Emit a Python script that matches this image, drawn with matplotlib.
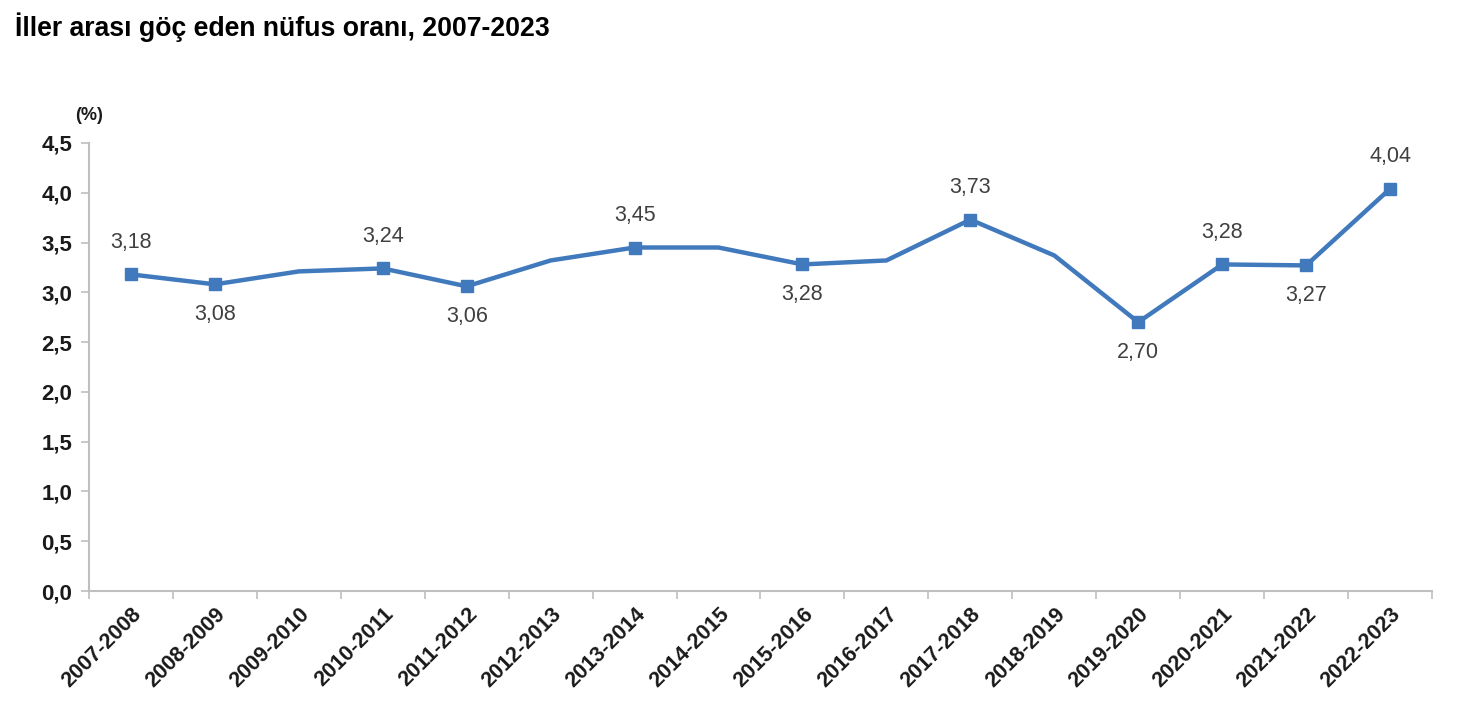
import matplotlib
matplotlib.use("Agg")
import matplotlib.pyplot as plt
import numpy as np

plt.rcParams['font.family'] = ['Liberation Sans', 'DejaVu Sans']

categories = ["2007-2008", "2008-2009", "2009-2010", "2010-2011", "2011-2012",
              "2012-2013", "2013-2014", "2014-2015", "2015-2016", "2016-2017",
              "2017-2018", "2018-2019", "2019-2020", "2020-2021", "2021-2022",
              "2022-2023"]
values = [3.18, 3.08, 3.21, 3.24, 3.06, 3.32, 3.45, 3.45, 3.28, 3.32,
          3.73, 3.37, 2.70, 3.28, 3.27, 4.04]
# labelled points: index -> position of label
label_pos = {0: "above", 1: "below", 3: "above", 4: "below", 6: "above",
             8: "below", 10: "above", 12: "below", 13: "above", 14: "below",
             15: "above"}
yticks = [0.0, 0.5, 1.0, 1.5, 2.0, 2.5, 3.0, 3.5, 4.0, 4.5]
title = "İller arası göç eden nüfus oranı, 2007-2023"

color = "#4179BD"
fig = plt.figure(figsize=(14.68, 7.22), dpi=100)
ax = fig.add_axes([0.0606, 0.1814, 0.9149, 0.6206])

x = np.arange(len(categories))
ax.plot(x, values, color=color, lw=3.2, solid_joinstyle='miter', zorder=3)
mk = sorted(label_pos.keys())
ax.plot(x[mk], [values[i] for i in mk], ls='none', marker='s', ms=9,
        color=color, zorder=4)

for i, pos in label_pos.items():
    txt = f"{values[i]:.2f}".replace(".", ",")
    dy = 23 if pos == "above" else -22
    ax.annotate(txt, (x[i], values[i]), xytext=(0, dy), textcoords='offset points',
                ha='center', va='center', fontsize=15.5, color='#404040')

ax.set_xlim(-0.5, len(categories) - 0.5)
ax.set_ylim(0, 4.5)
ax.set_yticks(yticks)
ax.set_yticklabels([f"{v:.1f}".replace(".", ",") for v in yticks],
                   fontsize=16, fontweight='bold', color='#1a1a1a')
ax.set_xticks(x)
ax.set_xticklabels(categories, rotation=45, ha='right', va='top',
                   rotation_mode='anchor', fontsize=15.5, fontweight='bold',
                   color='#1a1a1a')
ax.set_xticks(np.arange(-0.5, len(categories)), minor=True)
ax.tick_params(axis='x', which='major', length=0, pad=9)
ax.tick_params(axis='x', which='minor', length=6, color='#BFBFBF', width=1.2,
               direction='out')
ax.tick_params(axis='y', length=6, color='#BFBFBF', width=1.2, direction='out',
               pad=6)

for s in ['top', 'right']:
    ax.spines[s].set_visible(False)
for s in ['left', 'bottom']:
    ax.spines[s].set_color('#BFBFBF')
    ax.spines[s].set_linewidth(1.5)

fig.text(0.0105, 0.962, title, fontsize=19.2, fontweight='bold', ha='left',
         va='center', color='black')
fig.text(0.051, 0.840, "(%)", fontsize=13, fontweight='bold', ha='left',
         va='center', color='#1a1a1a')

fig.savefig("out.png", dpi=100, facecolor='white')
